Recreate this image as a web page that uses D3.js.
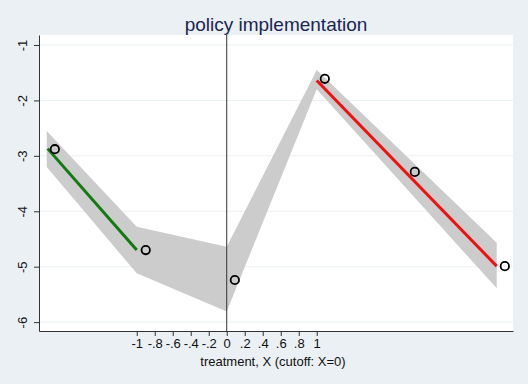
<!DOCTYPE html>
<html>
<head>
<meta charset="utf-8">
<script src="https://cdn.jsdelivr.net/npm/d3@7"></script>
<style>
  body { margin: 0; background: #eaf0f3; }
  svg { display: block; font-family: "Liberation Sans", Arial, sans-serif; }
</style>
</head>
<body>
<div id="chart"></div>
<script>
// binned means
const binX = [-1.91, -0.9, 0.09, 1.09, 2.09, 3.09];
const binY = [-2.88, -4.70, -5.24, -1.61, -3.29, -4.99];

// confidence band
const bandX = [-2, -1, 0, 1, 3];
const bandHi = [-2.55, -4.28, -4.64, -1.45, -4.57];
const bandLo = [-3.20, -5.12, -5.81, -1.80, -5.39];

// fitted lines
const fitLeftX = [-1.99, -1];
const fitLeftY = [-2.87, -4.70];
const fitRightX = [1, 3];
const fitRightY = [-1.64, -4.99];

const yTicks = [-1, -2, -3, -4, -5, -6];
const xTicks = [-1, -0.8, -0.6, -0.4, -0.2, 0, 0.2, 0.4, 0.6, 0.8, 1];

const width = 528;
const height = 384;
const plotL = 39, plotR = 513, plotT = 35, plotB = 331;

const svg = d3.select('#chart')
    .append('svg')
    .attr('width', width)
    .attr('height', height);

svg.append('rect')
    .attr('width', width)
    .attr('height', height)
    .attr('fill', '#eaf0f3');

svg.append('rect')
    .attr('x', plotL)
    .attr('y', plotT)
    .attr('width', plotR - plotL)
    .attr('height', plotB - plotT)
    .attr('fill', '#ffffff');

const x = d3.scaleLinear().domain([-2.086, 3.181]).range([plotL, plotR]);
const y = d3.scaleLinear().domain([-0.82, -6.16]).range([plotT, plotB]);

// grid
svg.selectAll('.grid')
    .data(yTicks)
    .enter()
    .append('line')
    .attr('class', 'grid')
    .attr('x1', plotL)
    .attr('x2', plotR)
    .attr('y1', d => y(d))
    .attr('y2', d => y(d))
    .attr('stroke', '#eaf0f3')
    .attr('stroke-width', 1);

// band
const band = d3.area()
    .x(d => x(d.x))
    .y0(d => y(d.lo))
    .y1(d => y(d.hi));

svg.append('path')
    .datum(bandX.map((v, i) => ({ x: v, lo: bandLo[i], hi: bandHi[i] })))
    .attr('d', band)
    .attr('fill', '#cccccc');

// cutoff line
svg.append('line')
    .attr('x1', x(0))
    .attr('x2', x(0))
    .attr('y1', plotT)
    .attr('y2', plotB)
    .attr('stroke', '#333')
    .attr('stroke-width', 1);

const line = d3.line().x(d => x(d[0])).y(d => y(d[1]));

svg.append('path')
    .attr('d', line(fitLeftX.map((v, i) => [v, fitLeftY[i]])))
    .attr('fill', 'none')
    .attr('stroke', '#117a11')
    .attr('stroke-width', 3);

svg.append('path')
    .attr('d', line(fitRightX.map((v, i) => [v, fitRightY[i]])))
    .attr('fill', 'none')
    .attr('stroke', '#f01010')
    .attr('stroke-width', 3);

svg.selectAll('.pt')
    .data(binX.map((v, i) => [v, binY[i]]))
    .enter()
    .append('circle')
    .attr('class', 'pt')
    .attr('cx', d => x(d[0]))
    .attr('cy', d => y(d[1]))
    .attr('r', 4.2)
    .attr('fill', 'none')
    .attr('stroke', '#000')
    .attr('stroke-width', 1.8);

// axes
const fmt = d => String(+d.toFixed(1)).replace('0.', '.');

const yAxis = svg.append('g')
    .attr('transform', `translate(${plotL},0)`)
    .call(d3.axisLeft(y).tickValues(yTicks).tickSize(5).tickSizeOuter(0).tickFormat(fmt));

yAxis.selectAll('text')
    .attr('transform', 'rotate(-90)')
    .attr('x', 0)
    .attr('y', -12)
    .attr('dy', 0)
    .attr('text-anchor', 'middle');

const xAxis = svg.append('g')
    .attr('transform', `translate(0,${plotB})`)
    .call(d3.axisBottom(x).tickValues(xTicks).tickSize(5).tickSizeOuter(0).tickFormat(fmt));

[xAxis, yAxis].forEach(g => {
    g.selectAll('.domain, line').attr('stroke', '#333');
    g.selectAll('text')
        .attr('fill', '#111')
        .style('font-size', '13px')
        .style('font-family', '"Liberation Sans", Arial, sans-serif');
});

svg.append('text')
    .attr('x', 273)
    .attr('y', 366)
    .attr('text-anchor', 'middle')
    .attr('fill', '#111')
    .style('font-size', '13px')
    .text('treatment, X (cutoff: X=0)');

svg.append('text')
    .attr('x', 276)
    .attr('y', 31)
    .attr('text-anchor', 'middle')
    .attr('fill', '#1a2550')
    .style('font-size', '19px')
    .text('policy implementation');
</script>
</body>
</html>
